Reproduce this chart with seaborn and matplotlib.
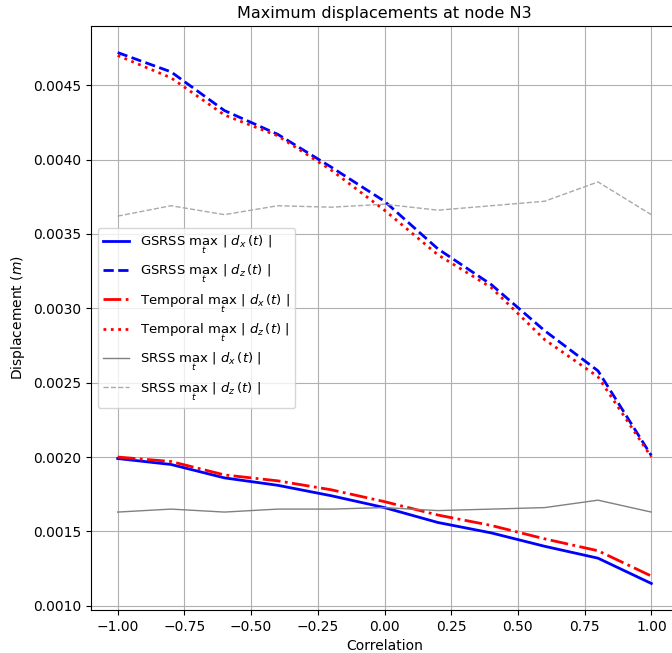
import numpy as np
import pandas as pd
import matplotlib
matplotlib.use("Agg")
import matplotlib.pyplot as plt
import seaborn as sns

correlation = [-1.0, -0.8, -0.6, -0.4, -0.2, 0.0, 0.2, 0.4, 0.6, 0.8, 1.0]

gsrss_dx = [0.00199, 0.00195, 0.00186, 0.00181, 0.00174, 0.00166, 0.00156, 0.00149, 0.00140, 0.00132, 0.00115]
gsrss_dz = [0.00472, 0.00459, 0.00433, 0.00417, 0.00395, 0.00372, 0.00340, 0.00316, 0.00285, 0.00258, 0.00201]
temporal_dx = [0.00200, 0.00197, 0.00188, 0.00184, 0.00178, 0.00170, 0.00161, 0.00154, 0.00145, 0.00137, 0.00120]
temporal_dz = [0.00470, 0.00455, 0.00430, 0.00416, 0.00393, 0.00366, 0.00336, 0.00314, 0.00279, 0.00254, 0.00200]
srss_dx = [0.00163, 0.00165, 0.00163, 0.00165, 0.00165, 0.00166, 0.00164, 0.00165, 0.00166, 0.00171, 0.00163]
srss_dz = [0.00362, 0.00369, 0.00363, 0.00369, 0.00368, 0.00370, 0.00366, 0.00369, 0.00372, 0.00385, 0.00363]

series = [
    (r'GSRSS $\max_{t}\ |\ d_x(t)\ |$', gsrss_dx, 'blue', '-', 2),
    (r'GSRSS $\max_{t}\ |\ d_z(t)\ |$', gsrss_dz, 'blue', '--', 2),
    (r'Temporal $\max_{t}\ |\ d_x(t)\ |$', temporal_dx, 'red', '-.', 2),
    (r'Temporal $\max_{t}\ |\ d_z(t)\ |$', temporal_dz, 'red', ':', 2),
    (r'SRSS $\max_{t}\ |\ d_x(t)\ |$', srss_dx, 'grey', '-', 1),
    (r'SRSS $\max_{t}\ |\ d_z(t)\ |$', srss_dz, 'darkgrey', '--', 1),
]

fig = plt.figure(figsize=(6.72, 6.53), dpi=100)
ax = fig.add_axes([91 / 672, 1 - 610 / 653, 587 / 672, 584 / 653])

for label, vals, color, ls, lw in series:
    df = pd.DataFrame({'Correlation': correlation, 'Displacement': vals})
    sns.lineplot(x='Correlation', y='Displacement', data=df, ax=ax,
                 color=color, linestyle=ls, linewidth=lw, label=label)

ax.grid(True)
ax.set_title('Maximum displacements at node N3', fontsize=11.5)
ax.set_xlabel('Correlation')
ax.set_ylabel(r'Displacement $(m)$')
ax.legend(loc='center left', fontsize=9.5)

fig.savefig('out.png', dpi=100)
